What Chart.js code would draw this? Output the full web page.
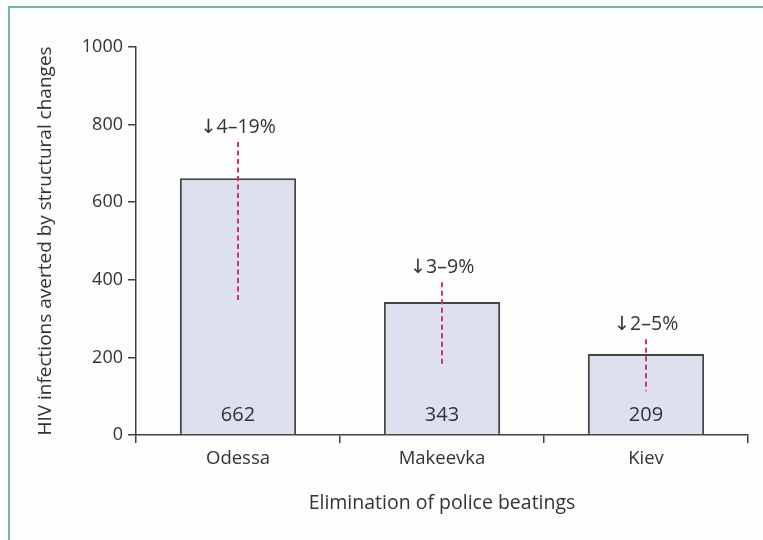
<!DOCTYPE html>
<html><head><meta charset="utf-8">
<script src="https://cdn.jsdelivr.net/npm/chart.js@4/dist/chart.umd.min.js"></script>
<style>
html,body{margin:0;padding:0;background:#fdfdfd;}
#wrap{position:relative;width:763px;height:540px;overflow:hidden;background:#fdfdfd;}
#frame{position:absolute;left:8px;top:6px;right:-4px;bottom:-4px;border-left:2px solid #74bb93;border-top:2px solid #74bb93;}
canvas{position:absolute;left:0;top:0;}
</style></head><body>
<div id="wrap"><div id="frame"></div><canvas id="c" width="763" height="540"></canvas></div>
<script>
// HIV infections averted by eliminating police beatings, per city
const cities = ['Odessa', 'Makeevka', 'Kiev'];
const averted = [662, 343, 209];
const rangeLow = [340, 180, 113];
const rangeHigh = [755, 394, 247];
const reductionLabels = ['\u21934\u201319%', '\u21933\u20139%', '\u21932\u20135%'];
const yTicks = [0, 200, 400, 600, 800, 1000];

const TEXT = '#333333';
const AXIS = '#404040';
const FONT = '"Open Sans", "DejaVu Sans", sans-serif';

// Dashed uncertainty range, percentage reduction above it, and count inside each bar
const annotate = {
  id: 'annotate',
  afterDatasetsDraw(chart) {
    const ctx = chart.ctx;
    const y = chart.scales.y;
    const bars = chart.getDatasetMeta(0).data;
    ctx.save();
    bars.forEach((bar, i) => {
      const top = y.getPixelForValue(rangeHigh[i]);
      const bot = y.getPixelForValue(rangeLow[i]);
      ctx.strokeStyle = '#d9306b';
      ctx.lineWidth = 2;
      ctx.setLineDash([5, 3.5]);
      ctx.beginPath();
      ctx.moveTo(bar.x, top);
      ctx.lineTo(bar.x, bot);
      ctx.stroke();
      ctx.setLineDash([]);
      ctx.fillStyle = TEXT;
      ctx.textAlign = 'center';
      ctx.textBaseline = 'middle';
      ctx.font = '19.5px ' + FONT;
      ctx.fillText(reductionLabels[i], bar.x, top - 15);
      ctx.font = '20px ' + FONT;
      ctx.fillText(String(averted[i]), bar.x, y.getPixelForValue(0) - 20);
    });
    ctx.restore();
  }
};

new Chart(document.getElementById('c'), {
  type: 'bar',
  data: {
    labels: cities,
    datasets: [{
      data: averted,
      backgroundColor: '#dde1ef',
      borderColor: '#444444',
      borderWidth: 2,
      borderSkipped: 'start',
      barPercentage: 0.57,
      categoryPercentage: 1
    }]
  },
  options: {
    responsive: false,
    animation: false,
    devicePixelRatio: 1,
    layout: { padding: { top: 47, right: 15, left: 0, bottom: 0 } },
    plugins: { legend: { display: false }, tooltip: { enabled: false } },
    scales: {
      x: {
        afterFit: s => { s.height = 105; },
        grid: { offset: true, drawOnChartArea: false, tickLength: 8, color: AXIS, lineWidth: 1.5 },
        border: { color: AXIS, width: 1.5 },
        ticks: { color: TEXT, font: { family: FONT, size: 18.5 }, padding: 5 },
        title: { display: true, text: 'Elimination of police beatings', color: TEXT,
                 font: { family: FONT, size: 19.5 }, padding: { bottom: 25 } }
      },
      y: {
        min: 0, max: 1000,
        afterFit: s => { s.width = 136; },
        afterBuildTicks: s => { s.ticks = yTicks.map(v => ({ value: v })); },
        grid: { drawOnChartArea: false, tickLength: 8, color: AXIS, lineWidth: 1.5 },
        border: { color: AXIS, width: 1.5 },
        ticks: { color: TEXT, font: { family: FONT, size: 18 }, padding: 5,
                 callback: v => String(v) },
        title: { display: true, text: 'HIV infections averted by structural changes', color: TEXT,
                 font: { family: FONT, size: 19 }, padding: { top: 34 } }
      }
    }
  },
  plugins: [annotate]
});
</script>
</body></html>
